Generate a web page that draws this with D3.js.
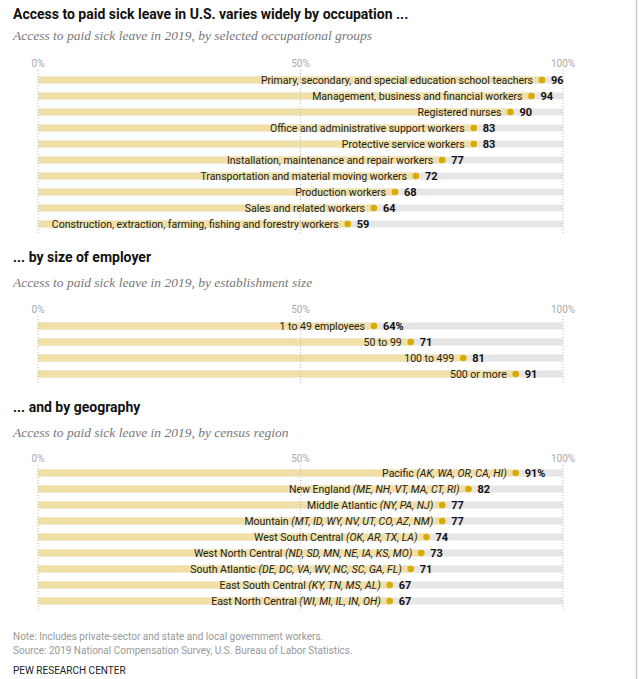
<!DOCTYPE html>
<html>
<head>
<meta charset="utf-8">
<script src="https://cdn.jsdelivr.net/npm/d3@7"></script>
<style>
  body { margin: 0; background: #fff; }
  .title { font-family: Roboto, "Liberation Sans", sans-serif; font-weight: 700; font-size: 14px; fill: #111; }
  .subtitle { font-family: "Liberation Serif", serif; font-style: italic; font-size: 13.5px; fill: #777; }
  .tick { font-family: Roboto, sans-serif; font-size: 10px; fill: #aaa; }
  .label { font-family: Roboto, sans-serif; font-size: 10.5px; fill: #222; }
  .value { font-family: Roboto, sans-serif; font-weight: 700; font-size: 11px; fill: #111; }
  .note { font-family: Roboto, sans-serif; font-size: 10px; fill: #999; }
  .pew { font-family: Roboto, sans-serif; font-size: 10px; fill: #222; }
</style>
</head>
<body>
<svg id="chart" width="644" height="679"></svg>
<script>
const ticks = [0, 50, 100];

const occupations = [
  "Primary, secondary, and special education school teachers",
  "Management, business and financial workers",
  "Registered nurses",
  "Office and administrative support workers",
  "Protective service workers",
  "Installation, maintenance and repair workers",
  "Transportation and material moving workers",
  "Production workers",
  "Sales and related workers",
  "Construction, extraction, farming, fishing and forestry workers"
];
const occValues = [96, 94, 90, 83, 83, 77, 72, 68, 64, 59];

const sizes = ["1 to 49 employees", "50 to 99", "100 to 499", "500 or more"];
const sizeValues = [64, 71, 81, 91];

const regions = ["Pacific", "New England", "Middle Atlantic", "Mountain", "West South Central",
  "West North Central", "South Atlantic", "East South Central", "East North Central"];
const regionStates = ["AK, WA, OR, CA, HI", "ME, NH, VT, MA, CT, RI", "NY, PA, NJ",
  "MT, ID, WY, NV, UT, CO, AZ, NM", "OK, AR, TX, LA", "ND, SD, MN, NE, IA, KS, MO",
  "DE, DC, VA, WV, NC, SC, GA, FL", "KY, TN, MS, AL", "WI, MI, IL, IN, OH"];
const regionValues = [91, 82, 77, 77, 74, 73, 71, 67, 67];

const svg = d3.select("#chart");

const x = d3.scaleLinear().domain([0, 100]).range([38, 563]);

// light border on the right
svg.append("line")
  .attr("x1", 636.5).attr("x2", 636.5).attr("y1", 0).attr("y2", 679)
  .attr("stroke", "#ccc").attr("stroke-width", 1.5);

// pos = [title baseline, subtitle baseline, tick baseline, first row centre]
function section(pos, title, subtitle, cats, values, states, pctIndex) {
  const [tY, sY, kY, rY] = pos;
  const g = svg.append("g");
  g.append("text").attr("class", "title").attr("x", 13).attr("y", tY).text(title);
  g.append("text").attr("class", "subtitle").attr("x", 13).attr("y", sY).text(subtitle);

  // step 16px, bar ~7px
  const y = d3.scaleBand()
    .domain(cats)
    .range([rY - 8, rY - 8 + cats.length * 16])
    .paddingInner(0.56)
    .paddingOuter(0.28);

  const y0 = kY + 3, y1 = rY + (cats.length - 1) * 16 + 9;

  g.selectAll(".tick").data(ticks).join("text")
    .attr("class", "tick")
    .attr("x", d => x(d)).attr("y", kY)
    .attr("text-anchor", "middle")
    .text(d => d + "%");

  const rows = g.selectAll(".row").data(cats).join("g")
    .attr("transform", d => `translate(0,${y(d)})`);

  rows.append("rect")
    .attr("x", x(0)).attr("width", x(100) - x(0))
    .attr("height", y.bandwidth()).attr("fill", "#e6e6e6");

  rows.append("rect")
    .attr("x", x(0)).attr("width", (d, i) => x(values[i]) - x(0))
    .attr("height", y.bandwidth()).attr("fill", "#f0e0a8");

  g.selectAll(".grid").data(ticks).join("line")
    .attr("x1", d => x(d)).attr("x2", d => x(d))
    .attr("y1", y0).attr("y2", y1)
    .attr("stroke", "#bbb").attr("stroke-dasharray", "1,2");

  const cy = y.bandwidth() / 2;

  rows.append("circle")
    .attr("cx", (d, i) => x(values[i])).attr("cy", cy).attr("r", 3.3)
    .attr("fill", "#d9aa00");

  const lab = rows.append("text")
    .attr("class", "label")
    .attr("x", (d, i) => x(values[i]) - 9)
    .attr("y", cy).attr("dy", "0.36em")
    .attr("text-anchor", "end");
  lab.append("tspan").text(d => d);
  if (states) {
    lab.append("tspan").attr("font-style", "italic").text((d, i) => " (" + states[i] + ")");
  }

  rows.append("text")
    .attr("class", "value")
    .attr("x", (d, i) => x(values[i]) + 9)
    .attr("y", cy).attr("dy", "0.36em")
    .text((d, i) => values[i] + (i === pctIndex ? "%" : ""));
}

section([19, 40, 67, 80], "Access to paid sick leave in U.S. varies widely by occupation ...",
  "Access to paid sick leave in 2019, by selected occupational groups",
  occupations, occValues, null, -1);
section([262, 287, 313, 326], "... by size of employer",
  "Access to paid sick leave in 2019, by establishment size",
  sizes, sizeValues, null, 0);
section([412, 437, 462, 473], "... and by geography",
  "Access to paid sick leave in 2019, by census region",
  regions, regionValues, regionStates, 0);

svg.append("text").attr("class", "note").attr("x", 13).attr("y", 640)
  .text("Note: Includes private-sector and state and local government workers.");
svg.append("text").attr("class", "note").attr("x", 13).attr("y", 654)
  .text("Source: 2019 National Compensation Survey, U.S. Bureau of Labor Statistics.");
svg.append("text").attr("class", "pew").attr("x", 13).attr("y", 674)
  .text("PEW RESEARCH CENTER");
</script>
</body>
</html>
